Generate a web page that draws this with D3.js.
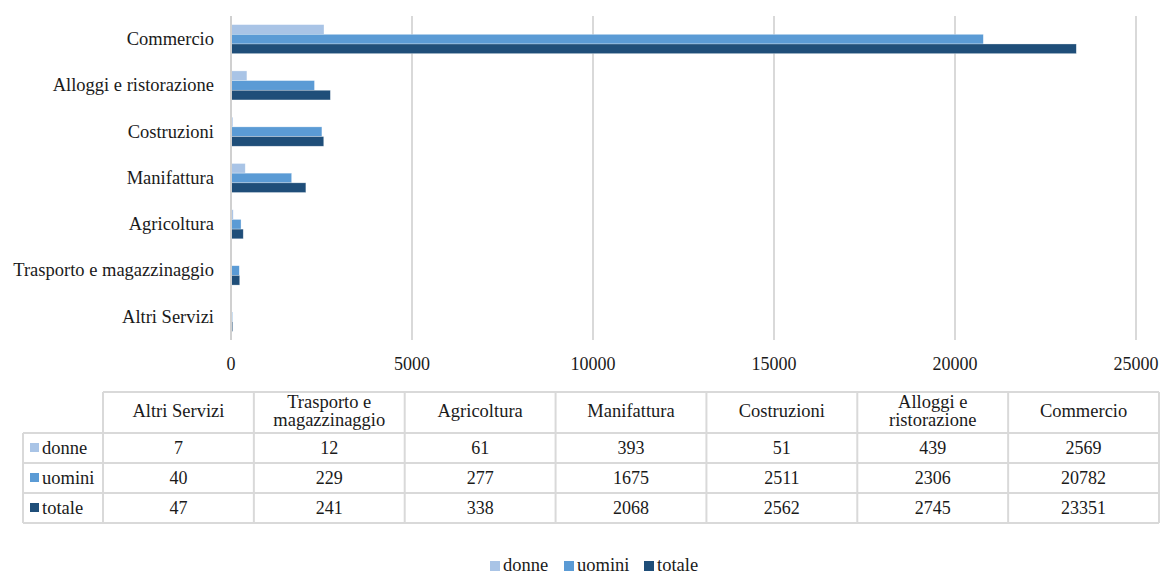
<!DOCTYPE html>
<html>
<head>
<meta charset="utf-8">
<script src="https://cdn.jsdelivr.net/npm/d3@7"></script>
<style>
  body { margin: 0; background: #fff; }
</style>
</head>
<body>
<svg id="chart"></svg>
<script>
// categories as listed in the table (bottom to top in the chart)
let categories = ['Altri Servizi', 'Trasporto e magazzinaggio', 'Agricoltura', 'Manifattura',
    'Costruzioni', 'Alloggi e ristorazione', 'Commercio'];
// header labels in the table are wrapped on two lines
let tableHeaders = [['Altri Servizi'], ['Trasporto e', 'magazzinaggio'], ['Agricoltura'], ['Manifattura'],
    ['Costruzioni'], ['Alloggi e', 'ristorazione'], ['Commercio']];

let seriesNames = ['donne', 'uomini', 'totale'];
let donne = [7, 12, 61, 393, 51, 439, 2569];
let uomini = [40, 229, 277, 1675, 2511, 2306, 20782];
let totale = [47, 241, 338, 2068, 2562, 2745, 23351];
let xTicks = [0, 5000, 10000, 15000, 20000, 25000];

let colors = ['#a9c4e6', '#5b9bd5', '#1f4e79'];
let seriesValues = [donne, uomini, totale];

let width = 1161,
    height = 576;

let labelSize = 18.5,
    numberSize = 18;

let svg = d3.select("svg#chart")
    .attr("width", width)
    .attr("height", height);

let plotTop = 16, plotBottom = 340;

let x = d3.scaleLinear().domain([0, 25000]).range([231, 1136]);

// Commercio on top
let y = d3.scaleBand()
    .domain(categories.slice().reverse())
    .range([plotTop, plotBottom])
    .paddingInner(0.373)
    .paddingOuter(0.1865);

let ySub = d3.scaleBand().domain(seriesNames).range([0, y.bandwidth()]);

let color = d3.scaleOrdinal().domain(seriesNames).range(colors);

// gridlines
svg.append("g")
    .selectAll("line")
    .data(xTicks.slice(1))
    .enter().append("line")
    .attr("x1", d => x(d)).attr("x2", d => x(d))
    .attr("y1", plotTop).attr("y2", plotBottom)
    .attr("stroke", "#d9d9d9")
    .attr("stroke-width", 2);

// bars
let rows = [];
categories.forEach((c, i) => {
    seriesNames.forEach((s, j) => {
        rows.push({ cat: c, series: s, value: seriesValues[j][i] });
    });
});

svg.append("g")
    .selectAll("rect")
    .data(rows)
    .enter().append("rect")
    .attr("x", x(0))
    .attr("y", d => y(d.cat) + ySub(d.series))
    .attr("width", d => x(d.value) - x(0))
    .attr("height", ySub.bandwidth())
    .attr("fill", d => color(d.series))
    .attr("stroke", "#ffffff")
    .attr("stroke-opacity", 0.5)
    .attr("stroke-width", 0.6);

// vertical axis line
svg.append("line")
    .attr("x1", x(0)).attr("x2", x(0))
    .attr("y1", plotTop).attr("y2", plotBottom)
    .attr("stroke", "#d0d0d0")
    .attr("stroke-width", 2);

// category labels
svg.append("g")
    .selectAll("text")
    .data(categories)
    .enter().append("text")
    .attr("x", 214)
    .attr("y", d => y(d) + y.bandwidth() / 2)
    .attr("dy", "0.32em")
    .attr("text-anchor", "end")
    .attr("font-size", labelSize)
    .text(d => d);

// x tick labels
svg.append("g")
    .selectAll("text")
    .data(xTicks)
    .enter().append("text")
    .attr("x", d => x(d))
    .attr("y", 364)
    .attr("dy", "0.32em")
    .attr("text-anchor", "middle")
    .attr("font-size", numberSize)
    .text(d => d);

// data table
let tableLeft = 103, tableRight = 1159, labelLeft = 23;
let rowTops = [392, 433, 463, 493, 523];
let col = d3.scaleBand().domain(categories).range([tableLeft, tableRight]);
let rowScale = d3.scaleBand().domain(seriesNames).range([rowTops[1], rowTops[4]]);

let tg = svg.append("g");
let lineColor = "#d9d9d9";

// horizontal lines
tg.append("line").attr("x1", tableLeft).attr("x2", tableRight)
    .attr("y1", rowTops[0]).attr("y2", rowTops[0])
    .attr("stroke", lineColor).attr("stroke-width", 2);
tg.selectAll("line.h")
    .data(rowTops.slice(1))
    .enter().append("line")
    .attr("class", "h")
    .attr("x1", labelLeft).attr("x2", tableRight)
    .attr("y1", d => d).attr("y2", d => d)
    .attr("stroke", lineColor).attr("stroke-width", 2);

// vertical lines
tg.selectAll("line.v")
    .data(categories.map(c => col(c)).concat([tableRight]))
    .enter().append("line")
    .attr("class", "v")
    .attr("x1", d => d).attr("x2", d => d)
    .attr("y1", rowTops[0]).attr("y2", rowTops[4])
    .attr("stroke", lineColor).attr("stroke-width", 2);
tg.append("line")
    .attr("x1", labelLeft).attr("x2", labelLeft)
    .attr("y1", rowTops[1]).attr("y2", rowTops[4])
    .attr("stroke", lineColor).attr("stroke-width", 2);

// header texts
let headerMid = (rowTops[0] + rowTops[1]) / 2;
categories.forEach((c, i) => {
    let lines = tableHeaders[i];
    let t = tg.append("text")
        .attr("x", col(c) + col.bandwidth() / 2)
        .attr("y", headerMid - 1 - (lines.length - 1) * 9)
        .attr("text-anchor", "middle")
        .attr("font-size", labelSize);
    lines.forEach((l, k) => {
        t.append("tspan")
            .attr("x", col(c) + col.bandwidth() / 2)
            .attr("dy", k == 0 ? "0.32em" : 18)
            .text(l);
    });
});

// row labels with keys
seriesNames.forEach((s, j) => {
    let cy = rowScale(s) + rowScale.bandwidth() / 2;
    tg.append("rect")
        .attr("x", 30).attr("y", cy - 5)
        .attr("width", 9).attr("height", 9)
        .attr("fill", color(s));
    tg.append("text")
        .attr("x", 42).attr("y", cy)
        .attr("dy", "0.32em")
        .attr("font-size", labelSize)
        .text(s);
    categories.forEach((c, i) => {
        tg.append("text")
            .attr("x", col(c) + col.bandwidth() / 2)
            .attr("y", cy)
            .attr("dy", "0.32em")
            .attr("text-anchor", "middle")
            .attr("font-size", numberSize)
            .text(seriesValues[j][i]);
    });
});

// legend
let legendX = [490, 564, 644];
let lg = svg.append("g");
seriesNames.forEach((s, j) => {
    lg.append("rect")
        .attr("x", legendX[j]).attr("y", 561)
        .attr("width", 10).attr("height", 10)
        .attr("fill", color(s));
    lg.append("text")
        .attr("x", legendX[j] + 13).attr("y", 565)
        .attr("dy", "0.32em")
        .attr("font-size", labelSize)
        .text(s);
});

// Times-like font for every text
svg.selectAll("text")
    .style("font-family", '"Liberation Serif"')
    .style("fill", "#1a1a1a");
</script>
</body>
</html>
